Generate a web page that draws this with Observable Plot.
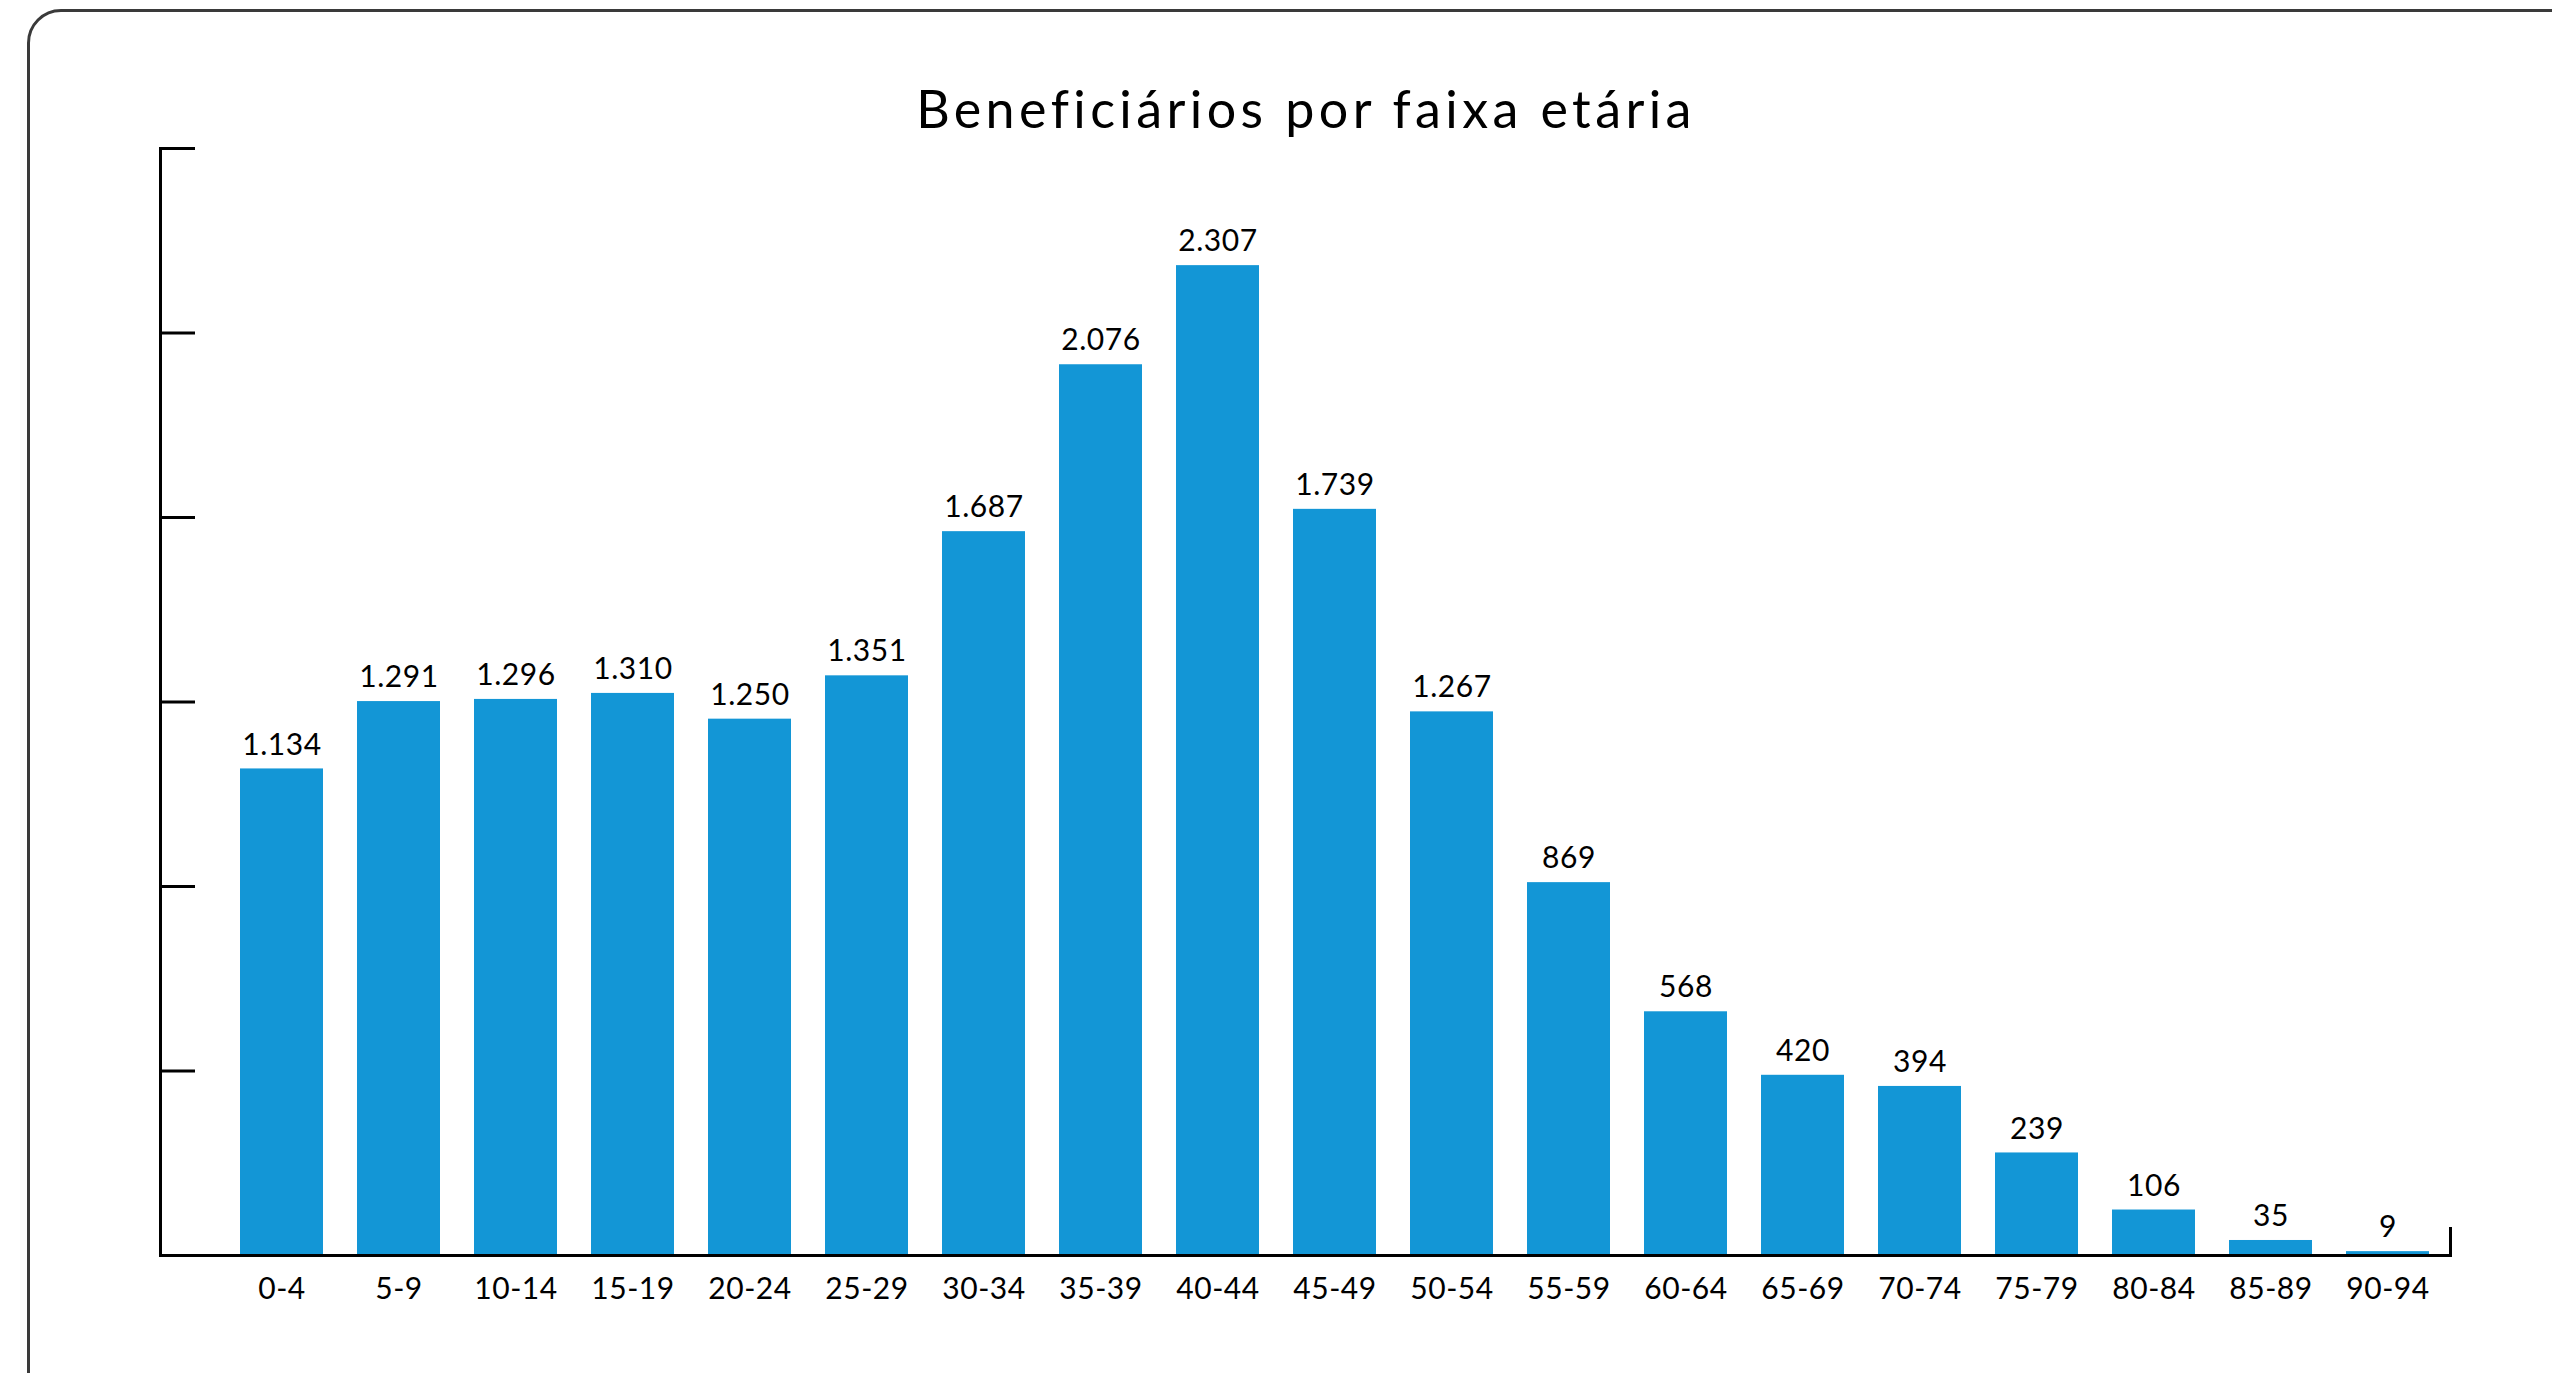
<!DOCTYPE html>
<html>
<head>
<meta charset="utf-8">
<script src="https://cdn.jsdelivr.net/npm/d3@7"></script>
<script src="https://cdn.jsdelivr.net/npm/@observablehq/plot@0.6"></script>
<style>
  html, body { margin: 0; padding: 0; background: #fff; overflow: hidden; }
  #wrap { position: relative; width: 2552px; height: 1373px; overflow: hidden; }
  #border { position: absolute; left: 27px; top: 9px; width: 2700px; height: 1500px;
            border: 3px solid #3a3a3a; border-radius: 34px; box-sizing: border-box; }
  #title { position: absolute; top: 73px; left: 60px; width: 2492px; text-align: center;
           font-family: Lato, sans-serif; font-size: 52px; letter-spacing: 4.4px; line-height: 70px; color: #000; }
  #chart { position: absolute; top: 140px; left: 0; }
  #chart svg text { letter-spacing: 0.6px; }
</style>
</head>
<body>
<div id="wrap">
  <div id="border"></div>
  <div id="title">Beneficiários por faixa etária</div>
  <div id="chart"></div>
</div>
<script>
const faixas = ["0-4","5-9","10-14","15-19","20-24","25-29","30-34","35-39","40-44","45-49","50-54","55-59","60-64","65-69","70-74","75-79","80-84","85-89","90-94"];
const beneficiarios = [1134,1291,1296,1310,1250,1351,1687,2076,2307,1739,1267,869,568,420,394,239,106,35,9];
const rotulos = ["1.134","1.291","1.296","1.310","1.250","1.351","1.687","2.076","2.307","1.739","1.267","869","568","420","394","239","106","35","9"];
const yTicks = [430, 860, 1290, 1720, 2150, 2580];

const data = faixas.map((f, i) => ({faixa: f, valor: beneficiarios[i], rotulo: rotulos[i]}));

const W = 2552, H = 1233;
const mL = 160, mR = 102, mT = 8, mB = 118;
const frameW = W - mL - mR, frameH = H - mT - mB;

const chart = Plot.plot({
  width: W,
  height: H,
  marginLeft: mL,
  marginRight: mR,
  marginTop: mT,
  marginBottom: mB,
  style: {fontFamily: "Lato, sans-serif", background: "transparent", overflow: "visible"},
  x: {domain: faixas, range: [237, 2431], paddingInner: 0.292, paddingOuter: 0, label: null},
  y: {domain: [0, 2580], label: null},
  marks: [
    Plot.barY(data, {x: "faixa", y: "valor", fill: "#1396d6"}),
    Plot.text(data, {x: "faixa", y: "valor", text: "rotulo", dy: -24, fontSize: 30, fill: "#000"}),
    Plot.frame({anchor: "left", stroke: "#000", strokeWidth: 3}),
    Plot.frame({anchor: "bottom", stroke: "#000", strokeWidth: 3}),
    Plot.frame({anchor: "right", stroke: "#000", strokeWidth: 3, insetTop: frameH - 27}),
    Plot.ruleY(yTicks, {stroke: "#000", strokeWidth: 3, insetRight: frameW - 35}),
    Plot.axisX({tickSize: 0, tickPadding: 22, fontSize: 30, fill: "#000", label: null}),
    Plot.axisY({ticks: [], label: null})
  ]
});
document.getElementById("chart").appendChild(chart);
</script>
</body>
</html>
